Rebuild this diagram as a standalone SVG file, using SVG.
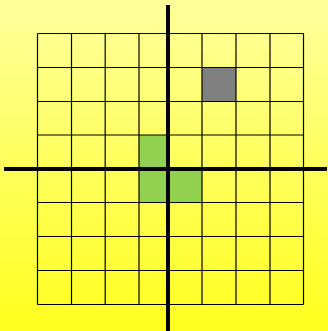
<svg xmlns="http://www.w3.org/2000/svg" width="328" height="331" viewBox="0 0 328 331">
  <defs>
    <linearGradient id="bg" x1="0" y1="0" x2="0" y2="1">
      <stop offset="0" stop-color="#FFFF9C"/>
      <stop offset="1" stop-color="#FFFF1E"/>
    </linearGradient>
  </defs>
  <style>
    .grid line { stroke: #000; stroke-width: 1.2; }
    .axis { stroke: #000; stroke-width: 4; }
    .green { fill: #92D050; }
    .gray { fill: #808080; }
  </style>
  <rect width="328" height="331" fill="url(#bg)"/>
  <g id="cells">
    <rect class="gray" x="202" y="67.5" width="34" height="34"/>
    <rect class="green" x="139" y="135" width="29" height="34"/>
    <rect class="green" x="139" y="169" width="29" height="33.5"/>
    <rect class="green" x="168" y="169" width="34" height="33.5"/>
  </g>
  <g id="grid" class="grid">
    <line x1="37.5" y1="33.5" x2="37.5" y2="304.5"/>
    <line x1="71.5" y1="33.5" x2="71.5" y2="304.5"/>
    <line x1="105.2" y1="33.5" x2="105.2" y2="304.5"/>
    <line x1="139" y1="33.5" x2="139" y2="304.5"/>
    <line x1="168" y1="33.5" x2="168" y2="304.5"/>
    <line x1="202" y1="33.5" x2="202" y2="304.5"/>
    <line x1="236" y1="33.5" x2="236" y2="304.5"/>
    <line x1="270" y1="33.5" x2="270" y2="304.5"/>
    <line x1="303.5" y1="33.5" x2="303.5" y2="304.5"/>
    <line x1="37.5" y1="33.5" x2="303.5" y2="33.5"/>
    <line x1="37.5" y1="67.5" x2="303.5" y2="67.5"/>
    <line x1="37.5" y1="101.5" x2="303.5" y2="101.5"/>
    <line x1="37.5" y1="135" x2="303.5" y2="135"/>
    <line x1="37.5" y1="169" x2="303.5" y2="169"/>
    <line x1="37.5" y1="202.5" x2="303.5" y2="202.5"/>
    <line x1="37.5" y1="236.5" x2="303.5" y2="236.5"/>
    <line x1="37.5" y1="270.5" x2="303.5" y2="270.5"/>
    <line x1="37.5" y1="304.5" x2="303.5" y2="304.5"/>
  </g>
  <g id="axes">
    <line class="axis" x1="168" y1="5" x2="168" y2="331"/>
    <line class="axis" x1="4" y1="169" x2="327" y2="169"/>
  </g>
</svg>
